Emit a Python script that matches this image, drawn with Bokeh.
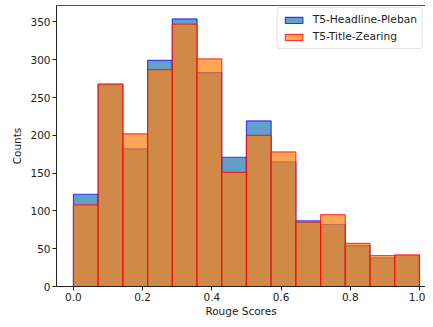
import numpy as np
from bokeh.plotting import figure
from bokeh.models import (Range1d, Legend, LegendItem, ColumnDataSource, LinearAxis,
                          FixedTicker, NumeralTickFormatter)
from bokeh.embed import file_html
from bokeh.resources import INLINE

# Histogram counts over 14 equal bins spanning 0..1
bin_start = 0.0
bin_end = 1.0
n_bins = 14
pleban_counts = [122, 267, 182, 299, 354, 283, 171, 219, 165, 87, 82, 54, 38, 41]
zearing_counts = [108, 268, 202, 287, 347, 301, 151, 200, 178, 85, 95, 57, 41, 42]
series_names = ["T5-Headline-Pleban", "T5-Title-Zearing"]
x_ticks = [0.0, 0.2, 0.4, 0.6, 0.8, 1.0]
y_ticks = [0, 50, 100, 150, 200, 250, 300, 350]

edges = np.linspace(bin_start, bin_end, n_bins + 1)
y_top = max(max(pleban_counts), max(zearing_counts)) * 1.05

p = figure(width=425, height=319, output_backend="svg", toolbar_location=None,
           x_range=Range1d(-0.049, 1.0175), y_range=Range1d(0, y_top),
           min_border_left=56, min_border_right=0, min_border_top=5, min_border_bottom=28)
p.grid.visible = False
p.outline_line_color = None

xax = p.below[0]
yax = p.left[0]

src_a = ColumnDataSource(dict(left=edges[:-1], right=edges[1:], top=pleban_counts))
src_b = ColumnDataSource(dict(left=edges[:-1], right=edges[1:], top=zearing_counts))

ra = p.quad(left="left", right="right", top="top", bottom=0, source=src_a,
            fill_color="#1f77b4", fill_alpha=0.7, line_color="blue", line_alpha=0.7, line_width=1.2)
rb = p.quad(left="left", right="right", top="top", bottom=0, source=src_b,
            fill_color="#ff7f0e", fill_alpha=0.7, line_color="red", line_alpha=0.7, line_width=1.2)

legend = Legend(items=[LegendItem(label=series_names[0], renderers=[ra]),
                       LegendItem(label=series_names[1], renderers=[rb])],
                location="top_right")
legend.label_text_font = "DejaVu Sans"
legend.label_text_font_size = "10.7px"
legend.label_text_color = "#222222"
legend.glyph_width = 22
legend.glyph_height = 8
legend.label_height = 11
legend.spacing = 4
legend.padding = 5
legend.margin = 2
legend.border_line_color = "#cccccc"
legend.border_radius = 3
legend.label_standoff = 8
p.add_layout(legend)

for ax in (xax, yax):
    ax.major_label_text_font = "DejaVu Sans"
    ax.major_label_text_font_size = "10.5px"
    ax.major_label_text_color = "#222222"
    ax.axis_label_text_font = "DejaVu Sans"
    ax.axis_label_text_font_size = "10.5px"
    ax.axis_label_text_font_style = "normal"
    ax.axis_label_text_color = "#222222"
    ax.minor_tick_line_color = None
    ax.major_tick_out = 4
    ax.major_tick_in = 0
    ax.axis_line_color = "#222222"
    ax.major_tick_line_color = "#222222"
    ax.major_label_standoff = 2

xax.ticker = FixedTicker(ticks=x_ticks)
yax.ticker = FixedTicker(ticks=y_ticks)
xax.formatter = NumeralTickFormatter(format="0.0")
xax.axis_label = "Rouge Scores"
yax.axis_label = "Counts"
xax.axis_label_standoff = 1
yax.axis_label_standoff = 4

top_spine = LinearAxis(ticker=FixedTicker(ticks=[]), major_label_text_font_size="0px",
                       axis_line_color="#555555", major_tick_line_color=None,
                       minor_tick_line_color=None)
p.add_layout(top_spine, "above")

open("out.html", "w").write(file_html(p, INLINE))
